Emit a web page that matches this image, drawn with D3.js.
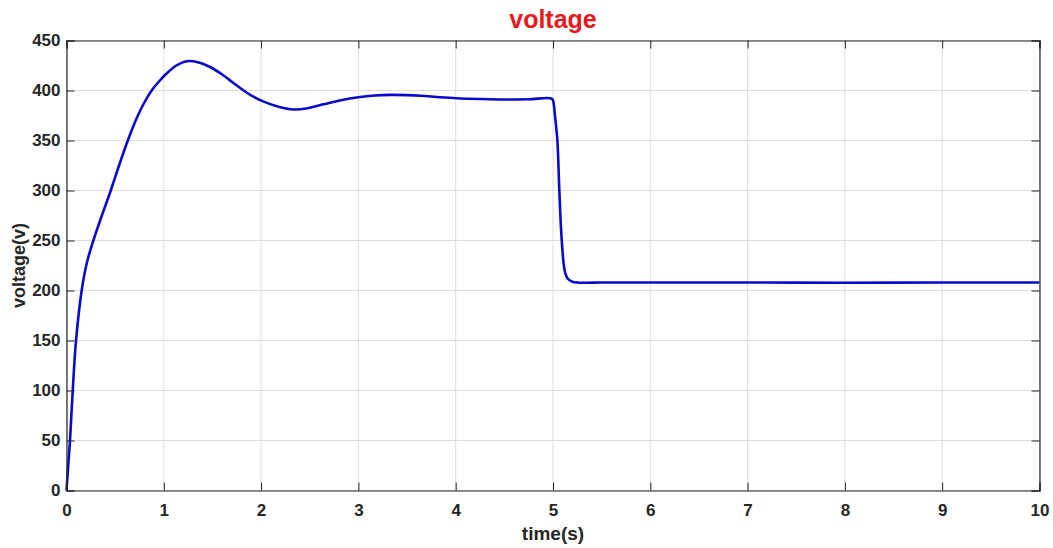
<!DOCTYPE html>
<html>
<head>
<meta charset="utf-8">
<script src="https://cdn.jsdelivr.net/npm/d3@7"></script>
<style>
  html, body { margin: 0; padding: 0; background: #fff; }
  svg { display: block; font-family: "Liberation Sans", Arial, Helvetica, sans-serif; }
</style>
</head>
<body>
<svg id="chart" width="1053" height="548"></svg>
<script>
// Capacitor voltage over time (s)
const timeS = [0, 0.02, 0.036, 0.064, 0.098, 0.156, 0.21, 0.276, 0.36, 0.455, 0.54, 0.63, 0.72, 0.8, 0.875, 0.95, 1.04, 1.13, 1.237, 1.35, 1.476, 1.6, 1.716, 1.85, 1.93, 2.008, 2.17, 2.333, 2.48, 2.642, 2.82, 3.0, 3.17, 3.33, 3.5, 3.64, 3.84, 4.01, 4.25, 4.49, 4.75, 4.99, 5.005, 5.02, 5.045, 5.065, 5.09, 5.12, 5.15, 5.2, 5.25, 5.35, 5.5, 6, 7, 8, 9, 10];
const voltageV = [0, 28, 50, 100, 150, 200, 228, 250, 274, 300, 325, 350, 372, 388, 400, 409, 418, 425, 429.3, 428.3, 423.5, 416, 407.5, 398, 393.3, 389.6, 384, 381, 382.3, 386.2, 390.3, 393.3, 395, 395.6, 395.4, 394.8, 393.3, 392.3, 391.5, 391, 391.2, 391.7, 388, 375, 350, 300, 250, 220, 212, 208.8, 208, 207.8, 208, 208, 208, 207.8, 208, 208];

const xTicks = [0, 1, 2, 3, 4, 5, 6, 7, 8, 9, 10];
const yTicks = [0, 50, 100, 150, 200, 250, 300, 350, 400, 450];

const titleText = "voltage";
const xLabel = "time(s)";
const yLabel = "voltage(v)";

const svg = d3.select("#chart");
const W = 1053, H = 548;
const margin = { left: 66.5, right: W - 1039.5, top: 40.5, bottom: H - 490.5 };
const x = d3.scaleLinear().domain([0, 10]).range([margin.left, W - margin.right]);
const y = d3.scaleLinear().domain([0, 450]).range([H - margin.bottom, margin.top]);

const axisColor = "#262626";

// grid
const grid = svg.append("g");
grid.selectAll("line.gx").data(xTicks).join("line")
  .attr("x1", d => x(d)).attr("x2", d => x(d))
  .attr("y1", y(0)).attr("y2", y(450))
  .attr("stroke", "#dedede").attr("stroke-width", 1);
grid.selectAll("line.gy").data(yTicks).join("line")
  .attr("y1", d => y(d)).attr("y2", d => y(d))
  .attr("x1", x(0)).attr("x2", x(10))
  .attr("stroke", "#dedede").attr("stroke-width", 1);

// data line
const line = d3.line()
  .x((d, i) => x(timeS[i]))
  .y(d => y(d))
  .curve(d3.curveCatmullRom.alpha(0.5));
svg.append("path")
  .datum(voltageV)
  .attr("d", line)
  .attr("fill", "none")
  .attr("stroke", "#0a0acb")
  .attr("stroke-width", 2.6)
  .attr("stroke-linejoin", "round");

// axes (ticks pointing inward, box on)
const tickLen = 8;
const gx = svg.append("g").attr("transform", `translate(0,${y(0)})`)
  .call(d3.axisBottom(x).tickValues(xTicks).tickSize(-tickLen).tickPadding(13).tickFormat(d3.format("d")));
const gxTop = svg.append("g").attr("transform", `translate(0,${y(450)})`)
  .call(d3.axisTop(x).tickValues(xTicks).tickSize(-tickLen).tickFormat(""));
const gy = svg.append("g").attr("transform", `translate(${x(0)},0)`)
  .call(d3.axisLeft(y).tickValues(yTicks).tickSize(-tickLen).tickPadding(6).tickFormat(d3.format("d")));
const gyRight = svg.append("g").attr("transform", `translate(${x(10)},0)`)
  .call(d3.axisRight(y).tickValues(yTicks).tickSize(-tickLen).tickFormat(""));

[gx, gxTop, gy, gyRight].forEach(g => {
  g.select(".domain").attr("stroke", axisColor).attr("stroke-width", 1.2);
  g.selectAll(".tick line").attr("stroke", axisColor).attr("stroke-width", 1);
  g.selectAll(".tick text").attr("fill", axisColor)
    .style("font-size", "17px").style("font-weight", "bold");
});

// title and labels
svg.append("text")
  .attr("x", (x(0) + x(10)) / 2).attr("y", 28)
  .attr("text-anchor", "middle")
  .attr("fill", "#e8191c")
  .style("font-size", "25px").style("font-weight", "bold")
  .text(titleText);

svg.append("text")
  .attr("x", (x(0) + x(10)) / 2).attr("y", 540)
  .attr("text-anchor", "middle")
  .attr("fill", axisColor)
  .style("font-size", "19px").style("font-weight", "bold")
  .text(xLabel);

svg.append("text")
  .attr("transform", `translate(25,${(y(0) + y(450)) / 2}) rotate(-90)`)
  .attr("text-anchor", "middle")
  .attr("fill", axisColor)
  .style("font-size", "18px").style("font-weight", "bold")
  .text(yLabel);
</script>
</body>
</html>
